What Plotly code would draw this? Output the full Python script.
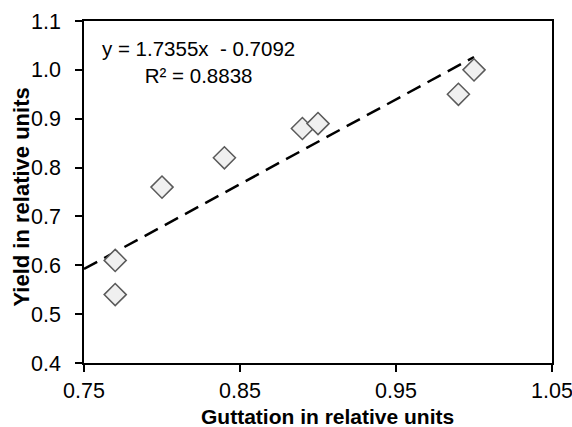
import plotly.graph_objects as go

guttation = [0.77, 0.77, 0.80, 0.84, 0.89, 0.90, 0.99, 1.00]
yield_rel = [0.61, 0.54, 0.76, 0.82, 0.88, 0.89, 0.95, 1.00]

slope = 1.7355
intercept = -0.7092
r2 = 0.8838
trend_x = [0.75, 1.00]
trend_y = [slope * x + intercept for x in trend_x]

x_ticks = [0.75, 0.85, 0.95, 1.05]
x_tick_labels = ["0.75", "0.85", "0.95", "1.05"]
y_ticks = [0.4, 0.5, 0.6, 0.7, 0.8, 0.9, 1.0, 1.1]
y_tick_labels = ["0.4", "0.5", "0.6", "0.7", "0.8", "0.9", "1.0", "1.1"]

x_title = "Guttation in relative units"
y_title = "Yield in relative units"

font = "Liberation Sans, Arial, sans-serif"

fig = go.Figure()
fig.add_trace(go.Scatter(
    x=trend_x, y=trend_y, mode="lines",
    line=dict(color="black", width=2.5, dash="15px,8px"),
    showlegend=False, hoverinfo="skip"))
fig.add_trace(go.Scatter(
    x=guttation, y=yield_rel, mode="markers",
    marker=dict(symbol="diamond", size=17, color="#f0f0f0",
                line=dict(color="#5a5a5a", width=1.5)),
    showlegend=False))

fig.add_annotation(
    x=0.2447, y=0.8787, xref="paper", yref="paper", showarrow=False,
    xanchor="center", yanchor="middle",
    text=f"y = {slope}x  - {abs(intercept)}<br>R² = {r2}",
    font=dict(family=font, size=20.5, color="black"))
fig.add_annotation(
    x=0.52, y=-0.157, xref="paper", yref="paper", showarrow=False,
    xanchor="center", yanchor="middle",
    text=f"<b>{x_title}</b>",
    font=dict(family=font, size=21, color="black"))
fig.add_annotation(
    x=-0.1346, y=0.4839, xref="paper", yref="paper", showarrow=False,
    xanchor="center", yanchor="middle", textangle=-90,
    text=f"<b>{y_title}</b>",
    font=dict(family=font, size=22, color="black"))

fig.update_layout(
    width=572, height=427,
    margin=dict(l=84, r=20, t=21, b=64),
    paper_bgcolor="white", plot_bgcolor="white",
    font=dict(family=font, size=21.5, color="black"),
    xaxis=dict(range=[0.75, 1.05], tickvals=x_ticks, ticktext=x_tick_labels,
               showgrid=False, zeroline=False, showline=True, mirror=True,
               linecolor="black", linewidth=1.5, ticks="outside", ticklen=7,
               tickcolor="black", tickwidth=1.5, automargin=False,
               ticklabelstandoff=0, ticklabeloverflow="allow"),
    yaxis=dict(range=[0.4, 1.1], tickvals=y_ticks, ticktext=y_tick_labels,
               showgrid=False, zeroline=False, showline=True, mirror=True,
               linecolor="black", linewidth=1.5, ticks="outside", ticklen=7,
               tickcolor="black", tickwidth=1.5, automargin=False,
               ticklabelstandoff=10, ticklabeloverflow="allow"),
)
fig.write_html("out.html", config={"displayModeBar": False},
               post_script="document.body.style.margin='0';document.body.style.overflow='hidden';")
